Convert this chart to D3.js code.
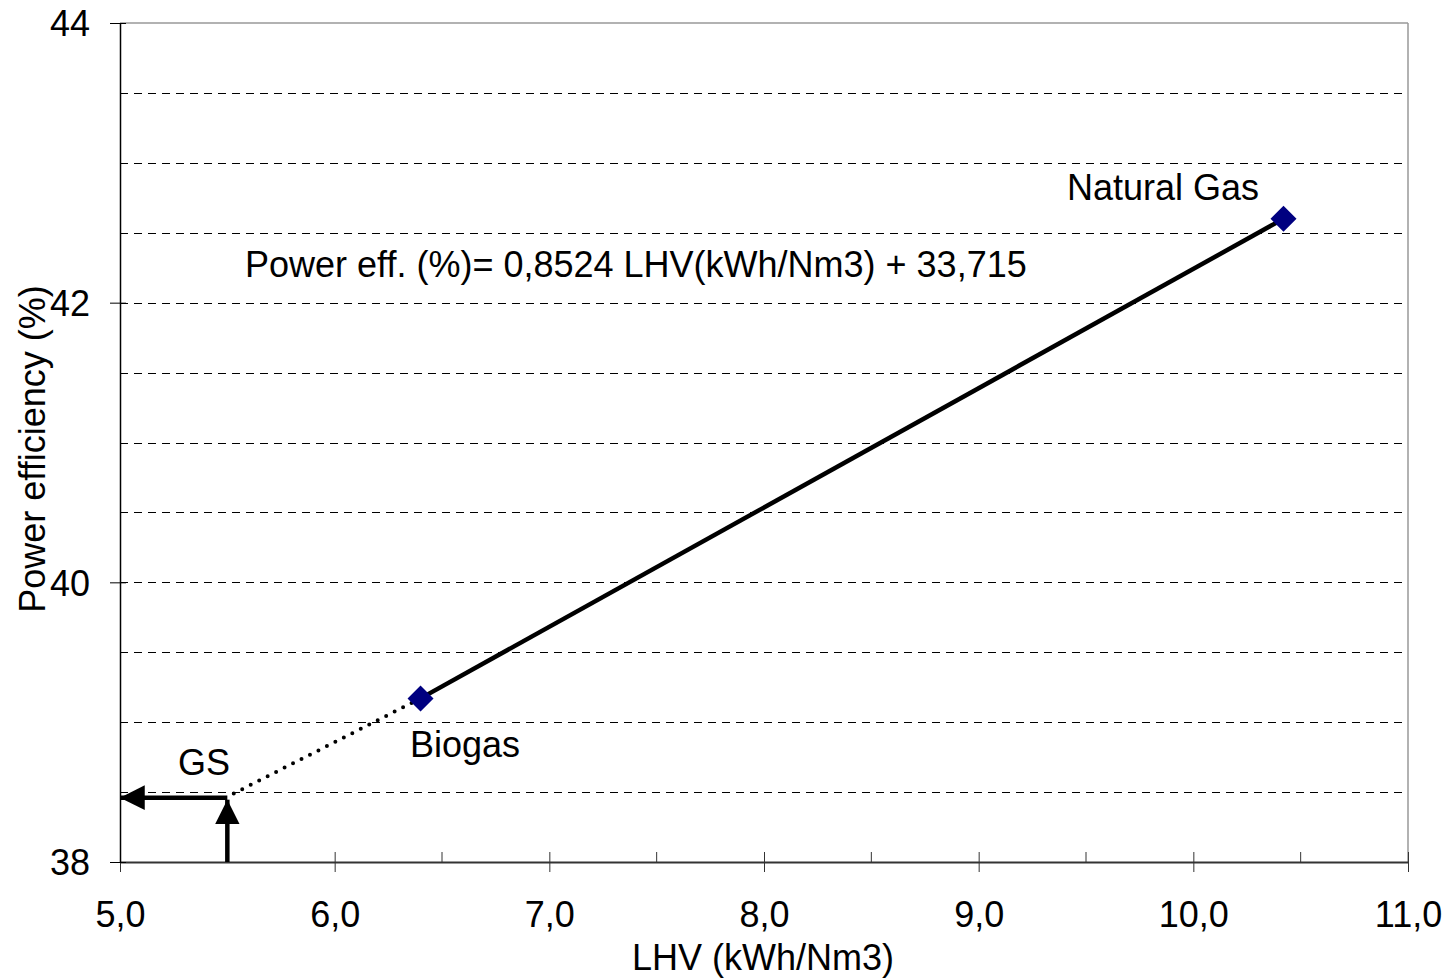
<!DOCTYPE html>
<html><head><meta charset="utf-8">
<script src="https://cdn.jsdelivr.net/npm/d3@7"></script>
<style>body{margin:0;background:#fff}text{font-family:"Liberation Sans",Arial,sans-serif;fill:#000}</style>
</head><body>
<svg id="c" width="1449" height="979"></svg>
<script>
const fuels = ["Biogas", "Natural Gas"];
const lhv = [6.40, 10.42];
const efficiency = [39.17, 42.60];
const extrapolation = [[5.53, 38.49], [6.40, 39.17]];
const gsPoint = [5.5, 38.46];
const xTicks = [5, 6, 7, 8, 9, 10, 11];
const xMinor = [5.5, 6.5, 7.5, 8.5, 9.5, 10.5];
const yTicks = [38, 40, 42, 44];
const yGrid = [38.5, 39, 39.5, 40, 40.5, 41, 41.5, 42, 42.5, 43, 43.5];
const equation = "Power eff. (%)= 0,8524 LHV(kWh/Nm3) + 33,715";

const FS = 36;
const svg = d3.select("#c");
const x = d3.scaleLinear().domain([5, 11]).range([120, 1408]);
const y = d3.scaleLinear().domain([38, 44]).range([862, 23]);
const fmt = d => d.toFixed(1).replace(".", ",");

// grid
svg.append("g").attr("shape-rendering", "crispEdges").selectAll("line").data(yGrid).join("line")
  .attr("x1", x(5)).attr("x2", x(11)).attr("y1", d => Math.round(y(d)) + 0.5).attr("y2", d => Math.round(y(d)) + 0.5)
  .attr("stroke", "#000").attr("stroke-width", 1).attr("stroke-dasharray", "8,6");
// top/right border
svg.append("line").attr("x1", x(5)).attr("x2", x(11)).attr("y1", y(44)).attr("y2", y(44)).attr("stroke", "#999").attr("stroke-width", 1.5);
svg.append("line").attr("x1", x(11)).attr("x2", x(11)).attr("y1", y(44)).attr("y2", y(38)).attr("stroke", "#999").attr("stroke-width", 1.5);

// axes
const xAxis = d3.axisBottom(x).tickValues(xTicks).tickFormat(fmt).tickSizeInner(10).tickSizeOuter(0);
const gx = svg.append("g").attr("transform", `translate(0,${y(38)})`).call(xAxis);
gx.select(".domain").attr("stroke", "#333").attr("stroke-width", 2);
gx.selectAll(".tick line").attr("y1", -10).attr("stroke", "#333");
gx.selectAll(".tick text").attr("font-size", FS).attr("font-family", "Liberation Sans, Arial, sans-serif")
  .attr("y", 65).attr("dy", null);
svg.append("g").selectAll("line").data(xMinor).join("line")
  .attr("x1", d => x(d)).attr("x2", d => x(d)).attr("y1", y(38)).attr("y2", y(38) - 10).attr("stroke", "#333");

const yAxis = d3.axisLeft(y).tickValues(yTicks).tickFormat(d => d).tickSizeInner(10).tickSizeOuter(0).tickPadding(20);
const gy = svg.append("g").attr("transform", `translate(${x(5)},0)`).call(yAxis);
gy.select(".domain").attr("stroke", "#000").attr("stroke-width", 1.5);
gy.selectAll(".tick line").attr("x2", -10).attr("x1", 6).attr("stroke", "#000");
gy.selectAll(".tick text").attr("font-size", FS).attr("font-family", "Liberation Sans, Arial, sans-serif")
  .attr("dy", "0.36em");

// axis titles
svg.append("text").attr("x", 763).attr("y", 970).attr("text-anchor", "middle").attr("font-size", FS).text("LHV (kWh/Nm3)");
svg.append("text").attr("transform", "translate(45,449) rotate(-90)").attr("text-anchor", "middle").attr("font-size", FS).text("Power efficiency (%)");

// extrapolation dotted
svg.append("path").datum(extrapolation)
  .attr("d", d3.line().x(d => x(d[0])).y(d => y(d[1])))
  .attr("fill", "none").attr("stroke", "#000").attr("stroke-width", 4)
  .attr("stroke-linecap", "round").attr("stroke-dasharray", "0,9.5");

// regression line
const pts = lhv.map((v, i) => [v, efficiency[i]]);
svg.append("path").datum(pts)
  .attr("d", d3.line().x(d => x(d[0])).y(d => y(d[1])))
  .attr("fill", "none").attr("stroke", "#000").attr("stroke-width", 4.5);

// markers
svg.append("g").selectAll("path").data(pts).join("path")
  .attr("transform", d => `translate(${x(d[0])},${y(d[1])})`)
  .attr("d", "M0,-13L13,0L0,13L-13,0Z")
  .attr("fill", "#000080");

// arrows
const defs = svg.append("defs");
defs.append("marker").attr("id", "ah").attr("viewBox", "0 0 10 10").attr("refX", 10).attr("refY", 5)
  .attr("markerWidth", 5.5).attr("markerHeight", 6).attr("markerUnits", "strokeWidth").attr("orient", "auto")
  .append("path").attr("d", "M0,0L10,5L0,10Z").attr("fill", "#000");
svg.append("line").attr("x1", x(gsPoint[0])).attr("y1", y(38)).attr("x2", x(gsPoint[0])).attr("y2", y(gsPoint[1]) + 2)
  .attr("stroke", "#000").attr("stroke-width", 4.5).attr("marker-end", "url(#ah)");
svg.append("line").attr("x1", x(gsPoint[0])).attr("y1", y(gsPoint[1])).attr("x2", x(5)).attr("y2", y(gsPoint[1]))
  .attr("stroke", "#000").attr("stroke-width", 4.5).attr("marker-end", "url(#ah)");

// labels
svg.append("text").attr("x", 1067).attr("y", 200).attr("font-size", FS).text(fuels[1]);
svg.append("text").attr("x", 410).attr("y", 757).attr("font-size", FS).text(fuels[0]);
svg.append("text").attr("x", 178).attr("y", 775).attr("font-size", FS).text("GS");
svg.append("text").attr("x", 245).attr("y", 277).attr("font-size", FS).text(equation);
</script>
</body></html>
